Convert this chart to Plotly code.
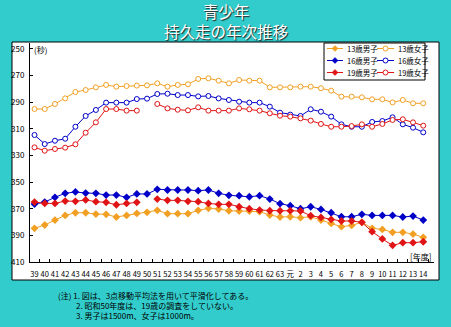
import plotly.graph_objects as go

years = [str(y) for y in range(39, 64)] + ["元"] + [str(y) for y in range(2, 15)]

boys13 = [384.7, 382.2, 378.5, 375.0, 373.0, 373.0, 374.0, 374.2, 376.2, 375.0,
          373.5, 372.7, 371.2, 373.7, 373.7, 373.7, 371.2, 369.7, 370.2, 371.5,
          371.7, 371.7, 372.2, 374.7, 376.2, 376.0, 376.7, 376.0, 378.5, 381.0,
          383.5, 382.5, 380.2, 384.7, 385.5, 387.7, 387.7, 389.0, 391.5]
girls13 = [295.1, 295.1, 291.3, 287.1, 282.3, 280.8, 278.8, 277.0, 278.3, 277.8,
           277.5, 277.3, 275.8, 278.3, 277.0, 276.5, 272.5, 272.0, 273.8, 275.8,
           273.3, 273.8, 273.8, 278.8, 278.8, 278.8, 278.3, 278.3, 279.5, 281.3,
           285.8, 285.8, 286.3, 287.8, 287.8, 290.1, 288.3, 290.8, 290.8]
boys16 = [366.5, 365.0, 361.4, 358.4, 357.4, 358.2, 358.4, 359.7, 359.7, 361.4,
          358.9, 358.9, 355.4, 355.9, 355.9, 355.9, 356.4, 355.9, 358.4, 359.9,
          360.2, 361.0, 360.2, 362.7, 366.2, 367.7, 370.0, 368.5, 370.5, 373.0,
          376.0, 376.0, 374.2, 375.0, 375.0, 375.0, 376.2, 375.5, 378.5]
girls16 = [314.6, 321.4, 318.9, 317.4, 308.4, 300.3, 295.8, 290.3, 290.3, 290.3,
           287.6, 287.3, 283.8, 283.6, 284.6, 284.6, 285.6, 285.3, 287.1, 288.3,
           289.6, 290.3, 290.3, 293.3, 297.8, 299.3, 300.3, 295.3, 297.1, 300.8,
           306.6, 308.4, 308.4, 304.8, 304.1, 301.3, 306.6, 309.1, 312.6]
boys19 = [365.0, 366.0, 366.0, 364.2, 364.4, 363.4, 364.7, 365.2, 367.0, 366.0,
          365.2, None, 362.7, 363.7, 363.7, 364.4, 364.7, 366.0, 366.7, 366.7,
          368.5, 370.0, 371.0, 371.5, 371.5, 371.5, 371.7, 375.2, 376.5, 378.0,
          379.2, 379.2, 380.2, 387.2, 392.7, 397.5, 395.5, 395.5, 394.8]
girls19 = [323.9, 326.4, 325.1, 324.1, 321.6, 312.9, 305.1, 295.1, 295.1, 296.3,
           296.3, None, 291.3, 294.6, 295.6, 296.1, 293.8, 296.3, 296.3, 296.3,
           294.6, 295.3, 296.3, 298.3, 300.1, 300.8, 302.1, 303.8, 306.3, 308.4,
           308.4, 307.9, 306.6, 308.4, 306.3, 303.3, 302.8, 305.1, 307.6]

y_ticks = [250, 270, 290, 310, 330, 350, 370, 390, 410]

ORANGE = "#F2A024"
BLUE = "#0000C8"
RED = "#E01414"
CYAN = "#33CCCC"
FONT = "Noto Sans CJK JP"

series = [
    ("13歳男子", boys13, ORANGE, True),
    ("13歳女子", girls13, ORANGE, False),
    ("16歳男子", boys16, BLUE, True),
    ("16歳女子", girls16, BLUE, False),
    ("19歳男子", boys19, RED, True),
    ("19歳女子", girls19, RED, False),
]

fig = go.Figure()
for name, vals, col, filled in series:
    if filled:
        marker = dict(symbol="diamond", size=6, color=col)
    else:
        marker = dict(symbol="circle", size=5, color="white", line=dict(color=col, width=1))
    fig.add_trace(go.Scatter(x=years, y=vals, name=name, mode="lines+markers",
                             line=dict(color=col, width=1), marker=marker,
                             connectgaps=False))

L, R, T, B = 30, 17, 43, 65
W, H = 451, 327
PW, PH = W - L - R, H - T - B


def px(x):
    return (x - L) / PW


def py(y):
    return (H - B - y) / PH


shapes = []
# white panel
shapes.append(dict(type="rect", xref="paper", yref="paper", x0=px(12), x1=px(439),
                   y0=py(280), y1=py(42), fillcolor="white",
                   line=dict(color="black", width=1), layer="below"))
# legend box
shapes.append(dict(type="rect", xref="paper", yref="paper", x0=px(324), x1=px(425),
                   y0=py(80), y1=py(43), fillcolor="white",
                   line=dict(color="black", width=1), layer="above"))

annotations = []
cols = [(327, 343, 345), (377, 394, 396)]
rows = [48.5, 60.5, 72.5]
for k, (name, vals, col, filled) in enumerate(series):
    r, c = k // 2, k % 2
    x0, x1, xt = cols[c]
    yy = rows[r]
    shapes.append(dict(type="line", xref="paper", yref="paper", x0=px(x0), x1=px(x1),
                       y0=py(yy), y1=py(yy), line=dict(color=col, width=1), layer="above"))
    cx = (x0 + x1) / 2
    if filled:
        shapes.append(dict(type="path", xref="paper", yref="paper", xsizemode="pixel",
                           ysizemode="pixel", xanchor=px(cx), yanchor=py(yy),
                           path="M -3 0 L 0 3 L 3 0 L 0 -3 Z", fillcolor=col,
                           line=dict(color=col, width=0.5), layer="above"))
    else:
        shapes.append(dict(type="circle", xref="paper", yref="paper", xsizemode="pixel",
                           ysizemode="pixel", xanchor=px(cx), yanchor=py(yy),
                           x0=-2.5, x1=2.5, y0=-2.5, y1=2.5, fillcolor="white",
                           line=dict(color=col, width=1), layer="above"))
    annotations.append(dict(text=name, xref="paper", yref="paper", x=px(xt), y=py(yy),
                            xanchor="left", yanchor="middle", showarrow=False,
                            font=dict(family=FONT, size=7.5, color="black")))

title_font = dict(family=FONT, size=15.5, color="white", shadow="1px 1px 1px #222")
annotations.append(dict(text="青少年<br>持久走の年次推移", xref="paper", yref="paper",
                        x=px(226), y=py(21), xanchor="center", yanchor="middle",
                        showarrow=False, font=title_font))
annotations.append(dict(text="(秒)", xref="paper", yref="paper", x=px(32), y=py(49),
                        xanchor="left", yanchor="middle", showarrow=False,
                        font=dict(family=FONT, size=8, color="black")))
annotations.append(dict(text="[年度]", xref="paper", yref="paper", x=px(433), y=py(256),
                        xanchor="right", yanchor="middle", showarrow=False,
                        font=dict(family=FONT, size=8, color="black")))

notes = [
    ("(注) 1. 図は、3点移動平均法を用いて平滑化してある。", 56, 295),
    ("2. 昭和50年度は、19歳の調査をしていない。", 74, 305),
    ("3. 男子は1500m、女子は1000m。", 74, 315),
]
for txt, nx, ny in notes:
    annotations.append(dict(text=txt, xref="paper", yref="paper", x=px(nx), y=py(ny),
                            xanchor="left", yanchor="middle", showarrow=False,
                            font=dict(family=FONT, size=8, color="black")))

fig.update_layout(
    width=W, height=H,
    margin=dict(l=L, r=R, t=T, b=B, pad=0),
    paper_bgcolor=CYAN, plot_bgcolor="white",
    showlegend=False,
    font=dict(family=FONT, color="black"),
    shapes=shapes, annotations=annotations,
    xaxis=dict(type="category", categoryorder="array", categoryarray=years,
               range=[-0.44, 39.05], showline=True, linecolor="black", linewidth=1,
               ticks="inside", ticklen=3, tickcolor="black", tickson="boundaries",
               showgrid=False, zeroline=False, tickangle=0,
               tickfont=dict(family=FONT, size=7.5, color="black"),
               ticklabelstandoff=5),
    yaxis=dict(range=[410, 245.5], tickvals=y_ticks, showline=True, linecolor="black",
               linewidth=1, ticks="inside", ticklen=3, tickcolor="black",
               showgrid=False, zeroline=False,
               tickfont=dict(family=FONT, size=8, color="black"),
               ticklabelstandoff=3),
)

fig.write_html("out.html")
